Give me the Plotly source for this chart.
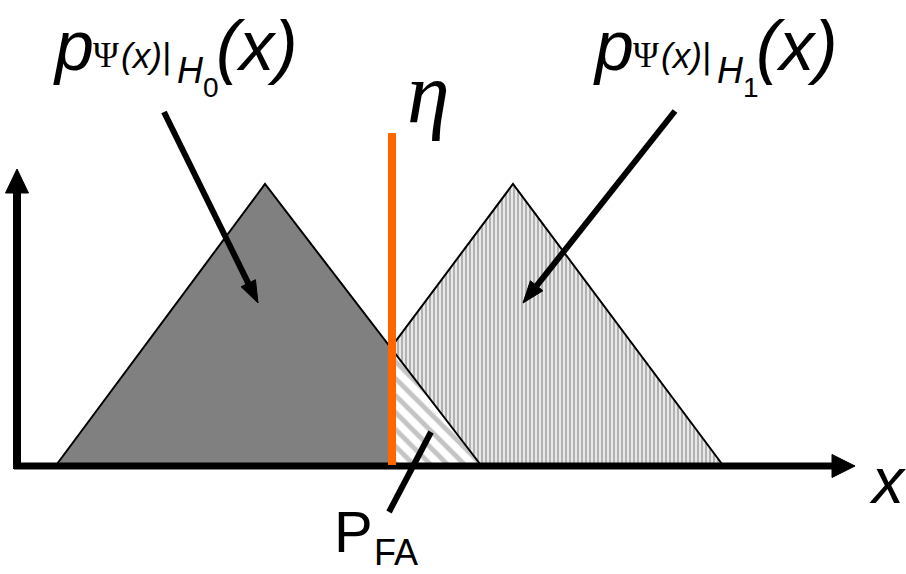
import numpy as np
import plotly.graph_objects as go

W, H = 906, 574

# ---- data (pixel-space coordinates of the schematic) ----
base_y = 464
h0_x = [57, 265, 480]          # H0 triangle: left base, apex, right base
h0_y = [base_y, 184, base_y]
h1_x = [304, 513, 722]         # H1 triangle
h1_y = [base_y, 184, base_y]
eta_x = 392                    # threshold
eta_top = 133

axis_origin = (17, 466)
x_axis_end = 855
y_axis_end = 169

ptr0 = [(164, 112), (258, 303)]   # pointer to H0 area
ptr1 = [(675, 111), (523, 303)]   # pointer to H1 area
ptr_fa = [(431, 432), (389, 512)] # pointer to P_FA


def y_on(p, q, x):
    return p[1] + (q[1] - p[1]) * (x - p[0]) / (q[0] - p[0])


y0_cross = y_on((h0_x[1], h0_y[1]), (h0_x[2], h0_y[2]), eta_x)
y1_cross = y_on((h1_x[0], h1_y[0]), (h1_x[1], h1_y[1]), eta_x)

fig = go.Figure()

# H1 striped region (right of threshold, not under H0)
fig.add_trace(go.Scatter(
    x=[eta_x, h1_x[1], h1_x[2], h0_x[2], eta_x],
    y=[y1_cross, h1_y[1], h1_y[2], base_y, y0_cross],
    mode="lines", fill="toself", line=dict(width=0),
    fillcolor="white",
    fillpattern=dict(shape="|", fgcolor="#7c7c7c", bgcolor="#e8e8e8", size=4, solidity=0.5),
    hoverinfo="skip"))

# P_FA region (H0 tail right of threshold)
fig.add_trace(go.Scatter(
    x=[eta_x, h0_x[2], eta_x, eta_x],
    y=[y0_cross, base_y, base_y, y0_cross],
    mode="lines", fill="toself", line=dict(width=0),
    fillcolor="white",
    fillpattern=dict(shape="\\", fgcolor="#8a8a8a", bgcolor="white", size=12, solidity=0.4),
    hoverinfo="skip"))

# H0 gray region (left of threshold)
fig.add_trace(go.Scatter(
    x=[h0_x[0], h0_x[1], eta_x, eta_x, h0_x[0]],
    y=[h0_y[0], h0_y[1], y0_cross, base_y, h0_y[0]],
    mode="lines", fill="toself", line=dict(width=0),
    fillcolor="#808080", hoverinfo="skip"))

# outlines
fig.add_trace(go.Scatter(x=h0_x, y=h0_y, mode="lines",
                         line=dict(color="black", width=2), hoverinfo="skip"))
fig.add_trace(go.Scatter(x=[eta_x, h1_x[1], h1_x[2]], y=[y1_cross, h1_y[1], h1_y[2]],
                         mode="lines", line=dict(color="black", width=2), hoverinfo="skip"))


def arrow(p0, p1, width, head_len, head_half):
    p0 = np.array(p0, float); p1 = np.array(p1, float)
    d = p1 - p0; d /= np.linalg.norm(d)
    n = np.array([-d[1], d[0]])
    b = p1 - d * head_len
    fig.add_trace(go.Scatter(x=[p0[0], b[0] + d[0] * 2], y=[p0[1], b[1] + d[1] * 2],
                             mode="lines", line=dict(color="black", width=width),
                             hoverinfo="skip"))
    tri = [p1, b + n * head_half, b - n * head_half, p1]
    fig.add_trace(go.Scatter(x=[t[0] for t in tri], y=[t[1] for t in tri],
                             mode="lines", fill="toself", fillcolor="black",
                             line=dict(color="black", width=1), hoverinfo="skip"))


# axes
arrow((axis_origin[0] - 3, axis_origin[1]), (x_axis_end, axis_origin[1]), 7, 23, 11.5)
arrow((axis_origin[0], axis_origin[1] + 3), (axis_origin[0], y_axis_end), 8, 24, 11.5)

# threshold line
fig.add_trace(go.Scatter(x=[eta_x, eta_x], y=[eta_top, base_y + 1], mode="lines",
                         line=dict(color="#FF6600", width=8), hoverinfo="skip"))

# pointers
arrow(ptr0[0], ptr0[1], 6, 22, 8)
arrow(ptr1[0], ptr1[1], 6, 22, 8)
fig.add_trace(go.Scatter(x=[p[0] for p in ptr_fa], y=[p[1] for p in ptr_fa], mode="lines",
                         line=dict(color="black", width=6), hoverinfo="skip"))

SANS = "Liberation Sans, Arial, sans-serif"
SERIF = "Liberation Serif, Times New Roman, serif"


def txt(s, x, baseline, size, family=SANS, asc=0.905, desc=0.212):
    fig.add_annotation(x=x, y=baseline - (asc - desc) / 2 * size, xref="x", yref="y",
                       text=s, showarrow=False, xanchor="left", yanchor="middle",
                       borderpad=0, borderwidth=0,
                       font=dict(family=family, size=size, color="black"))


def pdf_label(x0, sub):
    txt("<i>p</i>", x0, 70, 70)
    txt("Ψ", x0 + 40, 67, 35, SERIF, 0.891, 0.216)
    txt("<i>(x)|</i>", x0 + 68, 68, 35)
    txt("<i>H</i>", x0 + 124, 83, 36)
    txt(sub, x0 + 150, 97, 28)
    txt("<i>(x)</i>", x0 + 163, 70, 70)


pdf_label(53, "0")
pdf_label(593, "1")
txt("<i>η</i>", 407, 122, 86, SERIF, 0.891, 0.216)
txt("<i>x</i>", 869, 503, 64)
txt("P", 334, 552, 58)
txt("FA", 374, 565, 36)

fig.update_layout(
    width=W, height=H, margin=dict(l=0, r=0, t=0, b=0),
    paper_bgcolor="white", plot_bgcolor="white", showlegend=False,
    xaxis=dict(range=[0, W], visible=False, fixedrange=True),
    yaxis=dict(range=[H, 0], visible=False, fixedrange=True),
)

fig.write_html("out.html", config={"displayModeBar": False},
               post_script="document.body.style.margin='0';document.body.style.overflow='hidden';")
